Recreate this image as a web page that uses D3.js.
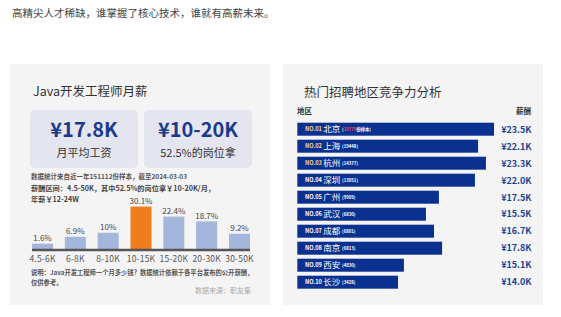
<!DOCTYPE html>
<html><head><meta charset="utf-8">
<script src="https://cdn.jsdelivr.net/npm/d3@7"></script>
<style>
html,body{margin:0;padding:0;background:#fff;}
svg{display:block;font-family:"Noto Sans CJK SC","Noto Sans",sans-serif;}
</style></head><body>
<svg id="c" width="561" height="317"></svg>
<script>
// ---- data ----
const headline = "高精尖人才稀缺，谁掌握了核心技术，谁就有高薪未来。";
const salaryRanges = ["4.5-6K","6-8K","8-10K","10-15K","15-20K","20-30K","30-50K"];
const salaryShare = [1.6, 6.9, 10, 30.1, 22.4, 18.7, 9.2];
const shareLabels = ["1.6%","6.9%","10%","30.1%","22.4%","18.7%","9.2%"];
const highlightRange = "10-15K";
const kpiValues = ["¥17.8K","¥10-20K"];
const kpiLabels = ["月平均工资","52.5%的岗位拿"];
const cityRanks = ["NO.01","NO.02","NO.03","NO.04","NO.05","NO.06","NO.07","NO.08","NO.09","NO.10"];
const cities = ["北京","上海","杭州","深圳","广州","武汉","成都","南京","西安","长沙"];
const citySamples = [20779, 19448, 14377, 13051, 9909, 6830, 6801, 6813, 4830, 3428];
const cityIndex = [100, 91.9, 95.9, 90.3, 72.0, 65.4, 69.5, 73.6, 54.2, 51.2]; // bar length (competitiveness)
const citySalary = ["¥23.5K","¥22.1K","¥23.3K","¥22.0K","¥17.5K","¥15.5K","¥16.7K","¥17.8K","¥15.1K","¥14.0K"];

const svg = d3.select("#c");

svg.append("text").attr("x",12).attr("y",17).attr("font-size",10.5).attr("fill","#444").text(headline);

// panels
svg.append("rect").attr("x",10).attr("y",64).attr("width",260).attr("height",241).attr("fill","#f4f4f4");
svg.append("rect").attr("x",283).attr("y",64).attr("width",260).attr("height",241).attr("fill","#f4f4f4");

// ---- left panel ----
svg.append("text").attr("x",33).attr("y",96).attr("font-size",12.5).attr("fill","#333").text("Java开发工程师月薪");

const cardX = [30,144];
kpiValues.forEach((v,i)=>{
  svg.append("rect").attr("x",cardX[i]).attr("y",110).attr("width",108).attr("height",58).attr("rx",5).attr("fill","#e4e5ee");
  svg.append("text").attr("x",cardX[i]+54).attr("y",137).attr("text-anchor","middle").attr("font-size",20).attr("font-weight","bold").attr("fill","#1b3a8c").text(v);
  svg.append("text").attr("x",cardX[i]+54).attr("y",157).attr("text-anchor","middle").attr("font-size",11).attr("fill","#333").text(kpiLabels[i]);
});

svg.append("text").attr("x",31).attr("y",179).attr("font-size",6.5).attr("font-weight","bold").attr("fill","#555").text("数据统计来自近一年151112份样本，截至2024-03-03");
svg.append("text").attr("x",31).attr("y",191).attr("font-size",7.2).attr("font-weight","bold").attr("fill","#444").text("薪酬区间：4.5-50K，其中52.5%的岗位拿￥10-20K/月，");
svg.append("text").attr("x",31).attr("y",201.5).attr("font-size",7.2).attr("font-weight","bold").attr("fill","#444").text("年薪￥12-24W");

const xb = d3.scaleBand().domain(salaryRanges).range([32,250]).paddingInner(0.36).paddingOuter(0);
const yb = d3.scaleLinear().domain([-2.5,31]).range([249,205.4]);
const gb = svg.append("g");
gb.selectAll("rect.bar").data(salaryRanges).join("rect").attr("class","bar")
  .attr("x",d=>xb(d)).attr("width",xb.bandwidth())
  .attr("y",(d,i)=>yb(salaryShare[i])).attr("height",(d,i)=>249-yb(salaryShare[i]))
  .attr("fill",d=>d===highlightRange?"#ef7d1f":"#a3b6dc");
gb.selectAll("text.val").data(salaryRanges).join("text").attr("class","val")
  .attr("x",d=>xb(d)+xb.bandwidth()/2).attr("y",(d,i)=>yb(salaryShare[i])-2.5)
  .attr("text-anchor","middle").attr("font-size",8).attr("fill","#444")
  .text((d,i)=>shareLabels[i]);
gb.append("line").attr("x1",32).attr("x2",250).attr("y1",250).attr("y2",250).attr("stroke","#555").attr("stroke-width",2.5);
const xAxis = gb.append("g").attr("transform","translate(0,251)").call(d3.axisBottom(xb).tickSize(0).tickPadding(5));
xAxis.select(".domain").remove();
xAxis.selectAll("text").attr("font-size",8.5).attr("fill","#555").attr("letter-spacing",0.2).attr("font-family","'Noto Sans CJK SC','Noto Sans',sans-serif");

svg.append("text").attr("x",31).attr("y",275).attr("font-size",6.3).attr("font-weight","bold").attr("fill","#555").text("说明：Java开发工程师一个月多少钱？数据统计依赖于各平台发布的公开薪酬，");
svg.append("text").attr("x",31).attr("y",284.5).attr("font-size",6.3).attr("font-weight","bold").attr("fill","#555").text("仅供参考。");
svg.append("text").attr("x",251).attr("y",293).attr("text-anchor","end").attr("font-size",7).attr("fill","#aaa").text("数据来源：职友集");

// ---- right panel ----
svg.append("text").attr("x",304).attr("y",97).attr("font-size",12.5).attr("fill","#333").text("热门招聘地区竞争力分析");
svg.append("text").attr("x",297).attr("y",114).attr("font-size",7.5).attr("font-weight","bold").attr("fill","#333").text("地区");
svg.append("text").attr("x",531).attr("y",114).attr("text-anchor","end").attr("font-size",7.5).attr("font-weight","bold").attr("fill","#333").text("薪酬");

const yc = d3.scaleBand().domain(cities).range([122.7,288.7]).paddingInner(0.235).paddingOuter(0);
const xc = d3.scaleLinear().domain([0,100]).range([297.3,494]);
const gc = svg.append("g");
gc.selectAll("rect").data(cities).join("rect")
  .attr("x",xc(0)).attr("y",d=>yc(d)).attr("height",yc.bandwidth())
  .attr("width",(d,i)=>xc(cityIndex[i])-xc(0)).attr("fill","#0a318f");
cities.forEach((c,i)=>{
  const cy = yc(c)+yc.bandwidth()/2;
  const t = gc.append("text").attr("x",305).attr("y",cy+2.2).attr("fill","#fff");
  t.append("tspan").attr("font-size",5.6).attr("font-weight","bold").attr("fill",i<3?"#f0dc96":"#fff").text(cityRanks[i]+" ");
  t.append("tspan").attr("font-size",8.5).attr("dy",0.6).text(c+" ");
  const s = t.append("tspan").attr("font-size",4.3).attr("font-weight","bold").attr("dy",-0.6);
  if(i===0){
    s.text("(");
    t.append("tspan").attr("font-size",4.3).attr("font-weight","bold").attr("fill","#e8455a").text(citySamples[i]);
    t.append("tspan").attr("font-size",4.3).attr("font-weight","bold").text("份样本)");
  } else {
    s.text("("+citySamples[i]+")");
  }
  gc.append("text").attr("x",531.5).attr("y",cy+3.3).attr("text-anchor","end")
    .attr("font-size",9).attr("font-weight","bold").attr("fill","#1d3f96").text(citySalary[i]);
});
</script>
</body></html>
